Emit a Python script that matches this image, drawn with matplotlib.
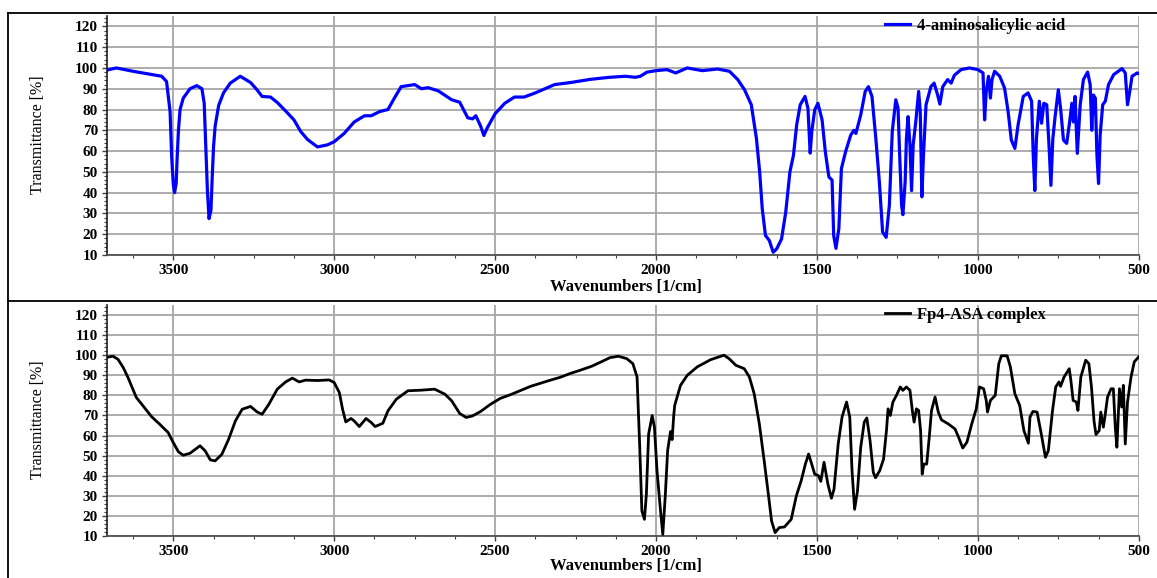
import matplotlib
matplotlib.use("Agg")
import matplotlib.pyplot as plt
from matplotlib.ticker import MultipleLocator
from matplotlib.lines import Line2D

plt.rcParams['font.family'] = ['Liberation Serif', 'DejaVu Serif']

# ---------------- data ----------------
series_names = ["4-aminosalicylic acid", "Fp4-ASA complex"]
series_colors = ["#0000ff", "#000000"]

top_wn = [3708, 3677, 3625, 3573, 3536, 3521, 3510, 3505, 3500, 3496, 3491, 3488, 3484, 3479, 3469,
          3448, 3427, 3411, 3404, 3398, 3394, 3389, 3383, 3379, 3375, 3370, 3359, 3344, 3323, 3292,
          3260, 3240, 3224, 3198, 3177, 3146, 3125, 3104, 3083, 3052, 3021, 3000, 2969, 2938, 2906,
          2885, 2859, 2833, 2813, 2792, 2771, 2750, 2729, 2708, 2677, 2635, 2610, 2595, 2585, 2570,
          2560, 2545, 2535, 2525, 2500, 2470, 2440, 2410, 2375, 2345, 2315, 2265, 2205, 2145, 2095,
          2065, 2049, 2028, 2000, 1966, 1939, 1903, 1856, 1809, 1772, 1746, 1725, 1704, 1688, 1678,
          1670, 1660, 1648, 1636, 1625, 1610, 1597, 1584, 1573, 1563, 1552, 1537, 1528, 1521, 1516,
          1507, 1497, 1484, 1474, 1463, 1453, 1448, 1441, 1432, 1424, 1411, 1395, 1385, 1379, 1364,
          1350, 1340, 1329, 1317, 1306, 1296, 1285, 1275, 1266, 1255, 1248, 1243, 1237, 1233, 1226,
          1222, 1217, 1211, 1206, 1201, 1193, 1184, 1179, 1174, 1169, 1161, 1146, 1136, 1125, 1118,
          1109, 1094, 1083, 1073, 1052, 1026, 1000, 984, 979, 974, 967, 961, 956, 948, 932,
          917, 906, 896, 885, 875, 859, 844, 833, 828, 823, 818, 809, 802, 795, 786,
          779, 773, 767, 760, 750, 743, 734, 724, 714, 708, 703, 698, 691, 682, 672,
          659, 651, 646, 641, 635, 630, 625, 620, 612, 604, 594, 578, 552, 542, 535,
          528, 521, 505, 500]
top_T = [98.9, 100, 98.4, 97, 96, 93.5, 79, 57, 44, 40, 44.5, 57, 70, 80, 85.5,
         90, 91.5, 90, 83, 57, 41, 27.5, 31.5, 47.6, 62, 72, 82, 88, 92.7, 96,
         93, 89.5, 86.3, 86, 83.4, 78.5, 75, 69.4, 65.6, 62, 63, 64.5, 68.5, 74, 77,
         77, 79, 80, 85.5, 91, 91.5, 92, 90, 90.5, 89, 84.7, 83.5, 79, 76, 75.5,
         77, 72, 67.5, 71, 78, 83, 86, 86, 88, 90, 92, 93, 94.5, 95.5, 96,
         95.5, 96, 98, 98.7, 99.2, 97.6, 100, 98.7, 99.5, 98.4, 94.4, 89.5, 82.3, 66, 50,
         32.3, 19.4, 17, 11.3, 13, 17.7, 30.6, 50, 58, 72.6, 82.3, 86.3, 80.6, 59, 69.4,
         79.8, 83, 75, 59.7, 47.6, 46, 19.4, 13.2, 22.6, 51.6, 59.7, 67.7, 70, 68.5, 77.4,
         88.7, 91, 86.3, 66, 45, 21, 18.5, 34, 69.4, 84.7, 80.6, 58, 34, 29.4, 45,
         66, 76.6, 63, 41, 63, 74, 88.7, 79, 38, 58, 82.3, 91, 92.7, 87, 82.6,
         91, 94.4, 92.7, 96.5, 99.2, 100, 99.2, 97.6, 75, 88.7, 96, 85.5, 94.4, 98.4, 96,
         90.3, 79, 65.3, 61.3, 72.6, 86.3, 88, 84, 58, 41, 66, 84, 73.4, 83, 82.3,
         63, 43.5, 66, 76.6, 89.5, 80.6, 65.3, 63.7, 75, 83, 74, 86.3, 58.9, 82.3, 94.4,
         98, 92, 70, 87, 85.5, 58, 44.4, 67.7, 82.3, 84, 92, 96.8, 99.7, 97.6, 82.3,
         88.7, 96, 97.6, 97.3]

bot_wn = [3708, 3688, 3672, 3656, 3641, 3630, 3615, 3594, 3568, 3542, 3516, 3500, 3484, 3469, 3448,
          3417, 3401, 3385, 3370, 3349, 3328, 3307, 3286, 3260, 3240, 3224, 3203, 3177, 3151, 3130,
          3109, 3089, 3052, 3016, 3000, 2984, 2974, 2964, 2948, 2938, 2922, 2901, 2885, 2873, 2849,
          2833, 2807, 2771, 2729, 2688, 2656, 2635, 2610, 2590, 2570, 2545, 2515, 2484, 2450, 2420,
          2390, 2360, 2330, 2298, 2265, 2236, 2200, 2173, 2143, 2117, 2091, 2072, 2059, 2051, 2044,
          2036, 2030, 2023, 2012, 2005, 1997, 1986, 1979, 1971, 1964, 1955, 1950, 1945, 1942, 1924,
          1903, 1872, 1830, 1789, 1773, 1752, 1726, 1710, 1695, 1679, 1664, 1651, 1641, 1630, 1617,
          1601, 1580, 1564, 1549, 1536, 1526, 1518, 1507, 1495, 1488, 1478, 1466, 1455, 1447, 1434,
          1422, 1408, 1398, 1391, 1383, 1374, 1364, 1353, 1345, 1335, 1325, 1318, 1305, 1293, 1284,
          1279, 1272, 1264, 1253, 1241, 1233, 1222, 1211, 1203, 1198, 1191, 1184, 1178, 1173, 1168,
          1159, 1151, 1144, 1133, 1123, 1113, 1092, 1071, 1060, 1047, 1034, 1019, 1005, 995, 982,
          974, 970, 961, 946, 935, 927, 909, 899, 885, 870, 857, 843, 838, 829, 816,
          803, 790, 781, 768, 758, 748, 743, 732, 716, 711, 704, 694, 689, 680, 665,
          655, 647, 639, 633, 623, 618, 610, 604, 597, 586, 579, 573, 568, 560, 553,
          548, 542, 535, 524, 514, 500]
bot_T = [98.9, 99.5, 98, 94, 89, 84.8, 79, 74.8, 69.5, 65.6, 61.5, 56.5, 51.9, 50.2, 51.2,
         54.9, 52.4, 47.9, 47.4, 50.7, 58.2, 67.3, 73.1, 74.5, 71.8, 70.6, 75.6, 83.1, 86.7, 88.6,
         86.7, 87.6, 87.4, 87.7, 86.4, 81.4, 73.1, 66.8, 68.5, 67.3, 64.5, 68.5, 66.5, 64.5, 66.1,
         72.3, 78.1, 82.3, 82.6, 83.1, 80.6, 77.3, 71, 69, 69.8, 72, 75.5, 78.5, 80.5, 82.5,
         84.5, 86, 87.5, 89, 91, 92.5, 94.5, 96.5, 98.8, 99.5, 98.3, 95.8, 89.2, 55.8, 22.5,
         18.3, 30.8, 60.8, 70, 64.2, 42.5, 22.5, 10.8, 30.8, 52.5, 62, 58, 70, 75, 85,
         90, 94.2, 97.8, 100, 98.3, 95, 93.3, 89.2, 80.8, 65.8, 47.5, 30.8, 17.5, 11.7, 14.2,
         14.5, 18.3, 30, 37.5, 45.8, 50.8, 46.7, 40.8, 40, 37.2, 46.7, 35.8, 28.8, 33.3, 55.8,
         69.2, 76.7, 69.2, 42.5, 23.3, 32.5, 54.2, 66.7, 68.8, 57.5, 41.7, 39, 42.5, 48.3, 62.5,
         73.3, 70, 76.7, 80, 84.2, 82.5, 84.2, 82.5, 71.7, 66.7, 73.3, 72.5, 62.5, 40.8, 45.8,
         45.8, 59.2, 72.5, 79.2, 71.7, 67.8, 65.8, 63.3, 59.2, 53.8, 56.7, 65.8, 73.3, 84.2, 83.3,
         77.5, 71.7, 77.5, 80, 95.8, 99.7, 99.7, 94.2, 80.8, 75, 62.5, 56.2, 69.2, 72, 71.7,
         60.8, 49.2, 52.5, 72.5, 84.2, 86.7, 84.5, 89.2, 93.3, 87.5, 77.5, 76.7, 72.5, 89.2, 97.5,
         95.8, 84.2, 67.2, 60.5, 62.5, 71.7, 64.2, 70.8, 79.2, 83.3, 83.3, 64.2, 54.2, 83.3, 74.2,
         85, 55.8, 76.7, 89.2, 96.7, 99.2]

x_major_ticks = [3500, 3000, 2500, 2000, 1500, 1000, 500]
x_label = "Wavenumbers [1/cm]"
y_label = "Transmittance [%]"

# ---------------- figure ----------------
W, H = 1157, 578
fig = plt.figure(figsize=(W / 100, H / 100), dpi=100)
fig.patch.set_facecolor("white")

ax_left = 107
ax_right = 1139
panels = [(16, 255), (305, 536)]
axes = []
for (ytop, ybot) in panels:
    ax = fig.add_axes([ax_left / W, 1 - ybot / H, (ax_right - ax_left) / W, (ybot - ytop) / H])
    axes.append(ax)

datasets = [(top_wn, top_T), (bot_wn, bot_T)]
legend_y = [0.958, 0.957]

for i, ax in enumerate(axes):
    wn, T = datasets[i]
    ax.plot(wn, T, color=series_colors[i], lw=2.3 if i == 0 else 2.0,
            solid_joinstyle="round", label=series_names[i], zorder=3)
    ax.set_xlim(3706, 499.3)
    ax.set_ylim(10, 125)
    ax.set_xticks(x_major_ticks)
    ax.xaxis.set_minor_locator(MultipleLocator(125))
    ax.yaxis.set_minor_locator(MultipleLocator(2))
    ax.set_yticks(list(range(10, 121, 10)))
    ax.grid(True, which="major", color="#a6a6a6", lw=1.3)
    ax.set_axisbelow(True)
    for s in ["top", "right"]:
        ax.spines[s].set_visible(False)
    ax.spines["left"].set_color("#202020")
    ax.spines["left"].set_linewidth(1.2)
    ax.spines["bottom"].set_color("#505050")
    ax.spines["bottom"].set_linewidth(1.3)
    ax.tick_params(axis="both", which="major", direction="out", length=3.5, width=1,
                   color="#404040", labelsize=11, pad=3)
    ax.tick_params(axis="both", which="minor", direction="out", length=2, width=0.8,
                   color="#404040")
    for lab in ax.get_xticklabels() + ax.get_yticklabels():
        lab.set_fontweight("bold")
    leg = ax.legend(loc="center left", bbox_to_anchor=((885 - ax_left) / (ax_right - ax_left), legend_y[i]),
                    frameon=False, borderpad=0, borderaxespad=0, handlelength=1.5,
                    handletextpad=0.4, prop={"weight": "bold", "size": 12})
    leg.set_zorder(5)

# axis labels
fig.text(626 / W, 1 - 287 / H, x_label, ha="center", va="center", fontsize=12, fontweight="bold")
fig.text(626 / W, 1 - 566 / H, x_label, ha="center", va="center", fontsize=12, fontweight="bold")
fig.text(38 / W, 1 - 135 / H, y_label, ha="center", va="center", rotation=90, fontsize=11.5)
fig.text(38 / W, 1 - 420 / H, y_label, ha="center", va="center", rotation=90, fontsize=11.5)

# outer frame and separator
fx = 8 / W
fig.add_artist(Line2D([fx, fx], [0, 1 - 13 / H], transform=fig.transFigure, color="black", lw=1.3))
fig.add_artist(Line2D([fx, 1], [1 - 13 / H, 1 - 13 / H], transform=fig.transFigure, color="black", lw=1.3))
fig.add_artist(Line2D([fx, 1], [1 - 301 / H, 1 - 301 / H], transform=fig.transFigure, color="black", lw=1.3))

fig.savefig("out.png", dpi=100, facecolor="white")
